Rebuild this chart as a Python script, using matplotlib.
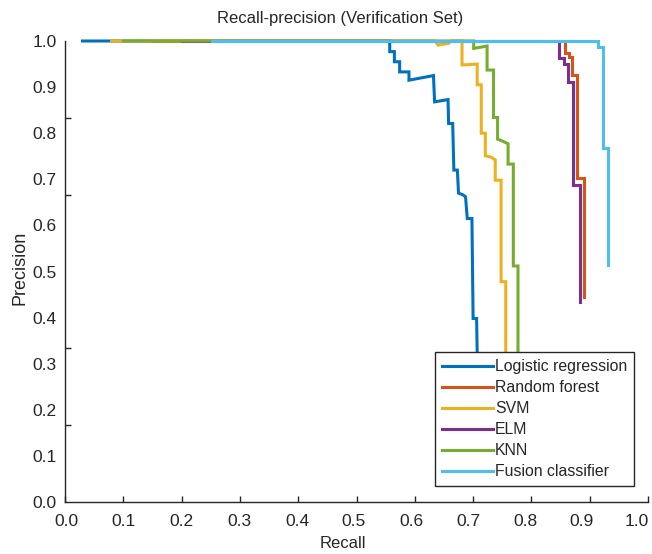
import numpy as np
import matplotlib
matplotlib.use("Agg")
import matplotlib.pyplot as plt

plt.rcParams['font.family'] = ['Liberation Sans', 'DejaVu Sans']

# recall / precision points (step-like PR curves)
lr_recall = [0.030, 0.557, 0.557, 0.565, 0.565, 0.574, 0.574, 0.590, 0.590, 0.632, 0.634,
             0.657, 0.658, 0.665, 0.667, 0.673, 0.675, 0.683, 0.687, 0.690, 0.698, 0.700,
             0.706, 0.708]
lr_precision = [1.0, 1.0, 0.977, 0.977, 0.955, 0.955, 0.933, 0.933, 0.915, 0.925, 0.868,
                0.873, 0.821, 0.821, 0.720, 0.720, 0.670, 0.666, 0.662, 0.615, 0.615, 0.398,
                0.398, 0.25]

rf_recall = [0.15, 0.857, 0.857, 0.864, 0.864, 0.870, 0.870, 0.879, 0.879, 0.891, 0.891]
rf_precision = [1.0, 1.0, 0.975, 0.975, 0.965, 0.965, 0.926, 0.926, 0.702, 0.702, 0.445]

svm_recall = [0.080, 0.635, 0.640, 0.658, 0.662, 0.681, 0.681, 0.707, 0.707, 0.714, 0.714,
              0.721, 0.721, 0.731, 0.738, 0.738, 0.748, 0.748, 0.756, 0.756]
svm_precision = [1.0, 1.0, 0.991, 0.995, 1.0, 1.0, 0.948, 0.950, 0.905, 0.905, 0.800,
                 0.800, 0.751, 0.748, 0.742, 0.698, 0.698, 0.478, 0.478, 0.25]

elm_recall = [0.2, 0.848, 0.848, 0.856, 0.856, 0.863, 0.863, 0.872, 0.872, 0.883, 0.883]
elm_precision = [1.0, 1.0, 0.963, 0.963, 0.951, 0.951, 0.912, 0.912, 0.688, 0.688, 0.434]

knn_recall = [0.100, 0.701, 0.701, 0.724, 0.724, 0.735, 0.735, 0.742, 0.742, 0.752, 0.760,
              0.760, 0.769, 0.769, 0.777, 0.777]
knn_precision = [1.0, 1.0, 0.984, 0.989, 0.937, 0.937, 0.834, 0.834, 0.787, 0.782, 0.777,
                 0.733, 0.733, 0.512, 0.512, 0.25]

fusion_recall = [0.252, 0.915, 0.915, 0.922, 0.922, 0.931, 0.931]
fusion_precision = [1.0, 1.0, 0.988, 0.988, 0.767, 0.767, 0.514]

labels = ['Logistic regression', 'Random forest', 'SVM', 'ELM', 'KNN', 'Fusion classifier']
colors = ['#0072BD', '#D95319', '#EDB120', '#7E2F8E', '#77AC30', '#4DBEEE']

x_ticks = np.round(np.arange(0, 1.01, 0.1), 1)
y_ticks = np.round(np.arange(0, 1.01, 0.1), 1)

fig = plt.figure(figsize=(6.52, 5.54), dpi=100)
ax = fig.add_axes([65 / 652, 52 / 554, 583 / 652, 461 / 554])

curves = [(lr_recall, lr_precision), (rf_recall, rf_precision), (svm_recall, svm_precision),
          (elm_recall, elm_precision), (knn_recall, knn_precision),
          (fusion_recall, fusion_precision)]
for (r, p), lab, c in zip(curves, labels, colors):
    ax.plot(r, p, color=c, linewidth=2.2, label=lab, clip_on=False, solid_joinstyle='miter')

ax.set_xlim(0, 1)
ax.set_ylim(0, 1)
for s in ['top', 'right']:
    ax.spines[s].set_visible(False)
for s in ['left', 'bottom']:
    ax.spines[s].set_color('#262626')
    ax.spines[s].set_linewidth(1.0)

# x tick marks at every 0.1; labels sit slightly squeezed to the left, as in the reference
x_label_px = np.array([66, 123, 181, 239, 297, 353, 411, 468, 525, 581, 636])
ax.set_xticks(x_ticks, minor=True)
ax.set_xticks((x_label_px - 64.5) / 583)
ax.set_xticklabels([f'{v:.1f}' for v in x_ticks])
ax.tick_params(axis='x', which='major', length=0, labelsize=12.5, labelcolor='#262626', pad=9)
ax.tick_params(axis='x', which='minor', direction='in', length=4, width=1, colors='#262626')

# y labels are evenly spaced, tick marks sit at sixths (as in the reference)
ax.set_yticks(y_ticks)
ax.set_yticklabels([f'{v:.1f}' for v in y_ticks])
ax.set_yticks(np.linspace(0, 1, 7), minor=True)
ax.tick_params(axis='y', which='major', length=0, labelsize=12.5, labelcolor='#262626', pad=6)
ax.tick_params(axis='y', which='minor', direction='in', length=4, width=1, colors='#262626')

fig.text(340 / 652, 1 - 18 / 554, 'Recall-precision (Verification Set)', ha='center',
         va='center', fontsize=12, color='#262626')
fig.text(343 / 652, 1 - 543 / 554, 'Recall', ha='center', va='center', fontsize=12,
         color='#262626')
fig.text(20 / 652, 1 - 268 / 554, 'Precision', ha='center', va='center', rotation=90,
         fontsize=13, color='#262626')

leg = ax.legend(loc='lower right', bbox_to_anchor=(0.976, 0.035), fontsize=11.4,
                fancybox=False, edgecolor='#262626', framealpha=1, handlelength=3.2,
                handletextpad=0.15, labelspacing=0.38, borderpad=0.42, borderaxespad=0)
leg.get_frame().set_linewidth(1.0)
for t in leg.get_texts():
    t.set_color('#262626')

fig.savefig('out.png', dpi=100)
